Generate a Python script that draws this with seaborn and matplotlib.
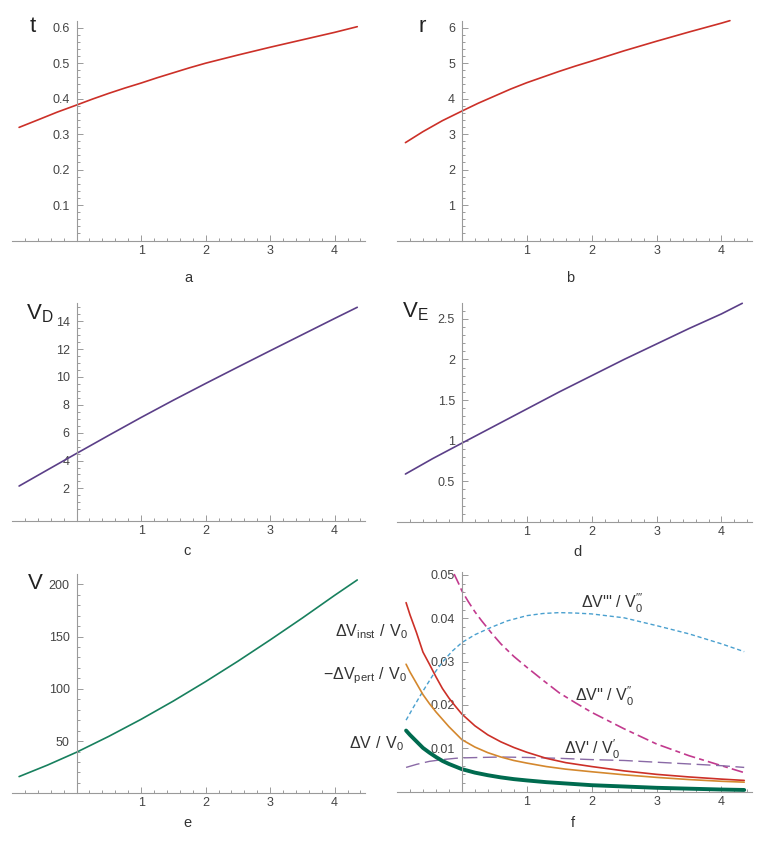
import numpy as np
import seaborn as sns
import matplotlib
matplotlib.use("Agg")
import matplotlib.pyplot as plt

# ---- data ----
x_t = [-0.89, -0.6, -0.3, 0, 0.25, 0.5, 0.75, 1, 1.25, 1.5, 1.75, 2, 2.5, 3, 3.5, 4, 4.35]
t_vals = [0.319, 0.340, 0.362, 0.382, 0.399, 0.415, 0.430, 0.444, 0.459, 0.473, 0.487,
          0.500, 0.523, 0.545, 0.566, 0.587, 0.603]

x_r = [-0.87, -0.6, -0.3, 0, 0.25, 0.5, 0.75, 1, 1.25, 1.5, 1.75, 2, 2.5, 3, 3.5, 4, 4.13]
r_vals = [2.76, 3.07, 3.38, 3.65, 3.87, 4.07, 4.27, 4.45, 4.61, 4.77, 4.92, 5.06, 5.35,
          5.62, 5.88, 6.13, 6.20]

x_vd = [-0.89, -0.45, 0, 0.5, 1, 1.5, 2, 2.5, 3, 3.5, 4, 4.35]
vd_vals = [2.17, 3.33, 4.51, 5.81, 7.09, 8.33, 9.53, 10.71, 11.88, 13.04, 14.2, 15.0]

x_ve = [-0.87, -0.45, 0, 0.5, 1, 1.5, 2, 2.5, 3, 3.5, 4, 4.32]
ve_vals = [0.59, 0.78, 0.97, 1.18, 1.39, 1.60, 1.80, 2.00, 2.19, 2.38, 2.56, 2.69]

x_v = [-0.89, -0.45, 0, 0.5, 1, 1.5, 2, 2.5, 3, 3.5, 4, 4.35]
v_vals = [16, 27, 39.3, 54.5, 70.8, 88.3, 106.9, 126.4, 146.8, 167.8, 189.5, 204.2]

x_f = [-0.86, -0.8, -0.7, -0.6, -0.5, -0.4, -0.3, -0.2, -0.1, 0, 0.2, 0.4, 0.6, 0.8,
       1.0, 1.3, 1.6, 2, 2.5, 3, 3.5, 4, 4.35]
dv_inst = [0.0436, 0.0408, 0.0367, 0.0322, 0.0294, 0.0265, 0.0238, 0.0216, 0.0197, 0.0179,
           0.0152, 0.0131, 0.0115, 0.0102, 0.0091, 0.0077, 0.0067, 0.0058, 0.0048, 0.0040,
           0.0034, 0.0029, 0.0026]
dv_pert = [0.0294, 0.0276, 0.0250, 0.0224, 0.0203, 0.0184, 0.0167, 0.0150, 0.0135, 0.0120,
           0.0103, 0.0090, 0.0080, 0.0072, 0.0066, 0.0058, 0.0052, 0.0046, 0.0039, 0.0033,
           0.0028, 0.0024, 0.0022]
dv_tot = [0.0141, 0.0131, 0.0116, 0.0101, 0.0090, 0.0080, 0.0071, 0.0064, 0.0058, 0.0052,
          0.0044, 0.0038, 0.0033, 0.0029, 0.0026, 0.0022, 0.0019, 0.0015, 0.0012, 0.0009,
          0.0007, 0.0005, 0.0004]

x_p1 = [-0.86, -0.7, -0.5, -0.3, -0.1, 0, 0.3, 0.6, 1, 1.5, 2, 2.5, 3, 3.5, 4, 4.35]
dv_p1 = [0.0056, 0.0063, 0.0070, 0.0074, 0.0077, 0.0078, 0.0079, 0.0080, 0.0079, 0.0077,
         0.0074, 0.0072, 0.0068, 0.0064, 0.0060, 0.0056]

x_p2 = [-0.12, -0.05, 0, 0.1, 0.2, 0.3, 0.45, 0.6, 0.8, 1, 1.25, 1.5, 1.75, 2, 2.5, 3,
        3.5, 4, 4.35]
dv_p2 = [0.0502, 0.0480, 0.0463, 0.0438, 0.0415, 0.0395, 0.0367, 0.0341, 0.0312, 0.0287,
         0.0257, 0.0228, 0.0205, 0.0183, 0.0145, 0.0110, 0.0083, 0.0060, 0.0044]

x_p3 = [-0.86, -0.75, -0.6, -0.45, -0.3, -0.15, 0, 0.2, 0.45, 0.7, 1, 1.25, 1.5, 1.75, 2,
        2.5, 3, 3.5, 4, 4.35]
dv_p3 = [0.0165, 0.0194, 0.0232, 0.0268, 0.0299, 0.0324, 0.0344, 0.0362, 0.0379, 0.0394,
         0.0406, 0.0411, 0.0413, 0.0412, 0.0410, 0.0401, 0.0383, 0.0364, 0.0341, 0.0323]

x_major = [1, 2, 3, 4]
x_major_labels = ["1", "2", "3", "4"]

sns.set_theme(style="white")
plt.rcParams["font.family"] = ["Liberation Sans", "DejaVu Sans"]
plt.rcParams["mathtext.fontset"] = "custom"
plt.rcParams["mathtext.rm"] = "Liberation Sans"
plt.rcParams["mathtext.default"] = "regular"

W, H = 763, 843
fig = plt.figure(figsize=(W / 100, H / 100), dpi=100)
AX_COL = "#9a9a9a"
TXT_COL = "#444444"


def px_axes(left, top, width, bottom):
    return fig.add_axes([left / W, 1 - bottom / H, width / W, (bottom - top) / H])


def frange(a, b, step, skip_step):
    vals = []
    v = a
    while v <= b + 1e-9:
        if abs(v / skip_step - round(v / skip_step)) > 1e-6:
            vals.append(v)
        v += step
    return vals


def style(ax, ylim, yticks, ylabels, yminor):
    ax.set_xlim(-1.0, 4.47)
    ax.set_ylim(*ylim)
    for s in ["top", "right"]:
        ax.spines[s].set_visible(False)
    ax.spines["left"].set_position(("data", 0))
    for s in ["left", "bottom"]:
        ax.spines[s].set_color(AX_COL)
        ax.spines[s].set_linewidth(0.8)
    ax.set_xticks(x_major, x_major_labels)
    ax.set_xticks(frange(-0.8, 4.41, 0.2, 1.0), minor=True)
    ax.set_yticks(yticks, ylabels)
    ax.set_yticks(yminor, minor=True)
    ax.tick_params(which="both", direction="in", bottom=True, left=True,
                   colors=AX_COL, labelcolor=TXT_COL, labelsize=9, width=0.7)
    ax.tick_params(which="major", length=4)
    ax.tick_params(which="minor", length=2.2)
    ax.tick_params(axis="x", pad=3)
    ax.tick_params(axis="y", pad=5)
    ax.set_xlabel("")
    ax.set_ylabel("")
    ax.patch.set_alpha(0)


def line(ax, x, y, color, lw=1.2, ls="-"):
    sns.lineplot(x=x, y=y, ax=ax, color=color, lw=lw, linestyle=ls, clip_on=False)


# a
ax = px_axes(12, 21, 353, 240.5)
line(ax, x_t, t_vals, "#cc3028")
style(ax, (0, 0.619), [0.1, 0.2, 0.3, 0.4, 0.5, 0.6],
      ["0.1", "0.2", "0.3", "0.4", "0.5", "0.6"], frange(0.02, 0.61, 0.02, 0.1))

# b
ax = px_axes(397, 21, 355, 240.5)
line(ax, x_r, r_vals, "#cc3028")
style(ax, (0, 6.19), [1, 2, 3, 4, 5, 6], ["1", "2", "3", "4", "5", "6"],
      frange(0.2, 6.1, 0.2, 1))

# c
ax = px_axes(12, 302.7, 353, 521)
line(ax, x_vd, vd_vals, "#5b3f88")
style(ax, (-0.34, 15.33), [2, 4, 6, 8, 10, 12, 14],
      ["2", "4", "6", "8", "10", "12", "14"], frange(0.5, 15, 0.5, 2))

# d
ax = px_axes(397, 302.5, 355, 522)
line(ax, x_ve, ve_vals, "#5b3f88")
style(ax, (0, 2.70), [0.5, 1, 1.5, 2, 2.5], ["0.5", "1", "1.5", "2", "2.5"],
      frange(0.1, 2.65, 0.1, 0.5))

# e
ax = px_axes(12, 574, 353, 793.3)
line(ax, x_v, v_vals, "#18805e")
style(ax, (0, 209.9), [50, 100, 150, 200], ["50", "100", "150", "200"],
      frange(10, 205, 10, 50))

# f
ax = px_axes(397, 572.3, 355, 791.7)
line(ax, x_p3, dv_p3, "#4aa0cf", lw=1.0, ls=(0, (3, 2)))
line(ax, x_p2, dv_p2, "#c23a8e", lw=1.2, ls=(0, (7, 2.5, 3, 2.5)))
line(ax, x_p1, dv_p1, "#8a6aa6", lw=1.0, ls=(0, (10, 4)))
line(ax, x_f, dv_inst, "#cc3028", lw=1.2)
line(ax, x_f, dv_pert, "#d4882e", lw=1.2)
line(ax, x_f, dv_tot, "#006b4f", lw=2.8)
style(ax, (0, 0.0506), [0.01, 0.02, 0.03, 0.04, 0.05],
      ["0.01", "0.02", "0.03", "0.04", "0.05"], frange(0.002, 0.05, 0.002, 0.01))

lab = dict(fontsize=11.5, color="#333333", va="baseline")
ax.text(-0.83, 0.0359, r"$\Delta V_{inst}\ /\ V_0$", ha="right", **lab)
ax.text(-0.85, 0.0259, r"$-\Delta V_{pert}\ /\ V_0$", ha="right", **lab)
ax.text(-0.89, 0.0100, r"$\Delta V\ /\ V_0$", ha="right", **lab)
ax.text(1.83, 0.0423, "\u0394V''' / V" + r"$_0^{\prime\prime\prime}$", ha="left", **lab)
ax.text(1.74, 0.0208, "\u0394V'' / V" + r"$_0^{\prime\prime}$", ha="left", **lab)
ax.text(1.57, 0.0085, "\u0394V' / V" + r"$_0^{\prime}$", ha="left", **lab)

# axis names and panel letters
name = dict(fontsize=16, color="#222222", va="baseline")
fig.text(33 / W, 1 - 32 / H, "t", ha="center", **name)
fig.text(422 / W, 1 - 32 / H, "r", ha="center", **name)
fig.text(26 / W, 1 - 319 / H, r"$V_D$", ha="left", **name)
fig.text(402 / W, 1 - 317 / H, r"$V_E$", ha="left", **name)
fig.text(28 / W, 1 - 589 / H, "V", ha="left", **name)

for letter, px, py in [("a", 188, 278), ("b", 570, 278), ("c", 187, 551),
                       ("d", 578, 552), ("e", 187, 823), ("f", 573, 823)]:
    fig.text(px / W, 1 - py / H, letter, ha="center", va="center",
             fontsize=10.5, color="#333333")

fig.savefig("out.png", dpi=100)
